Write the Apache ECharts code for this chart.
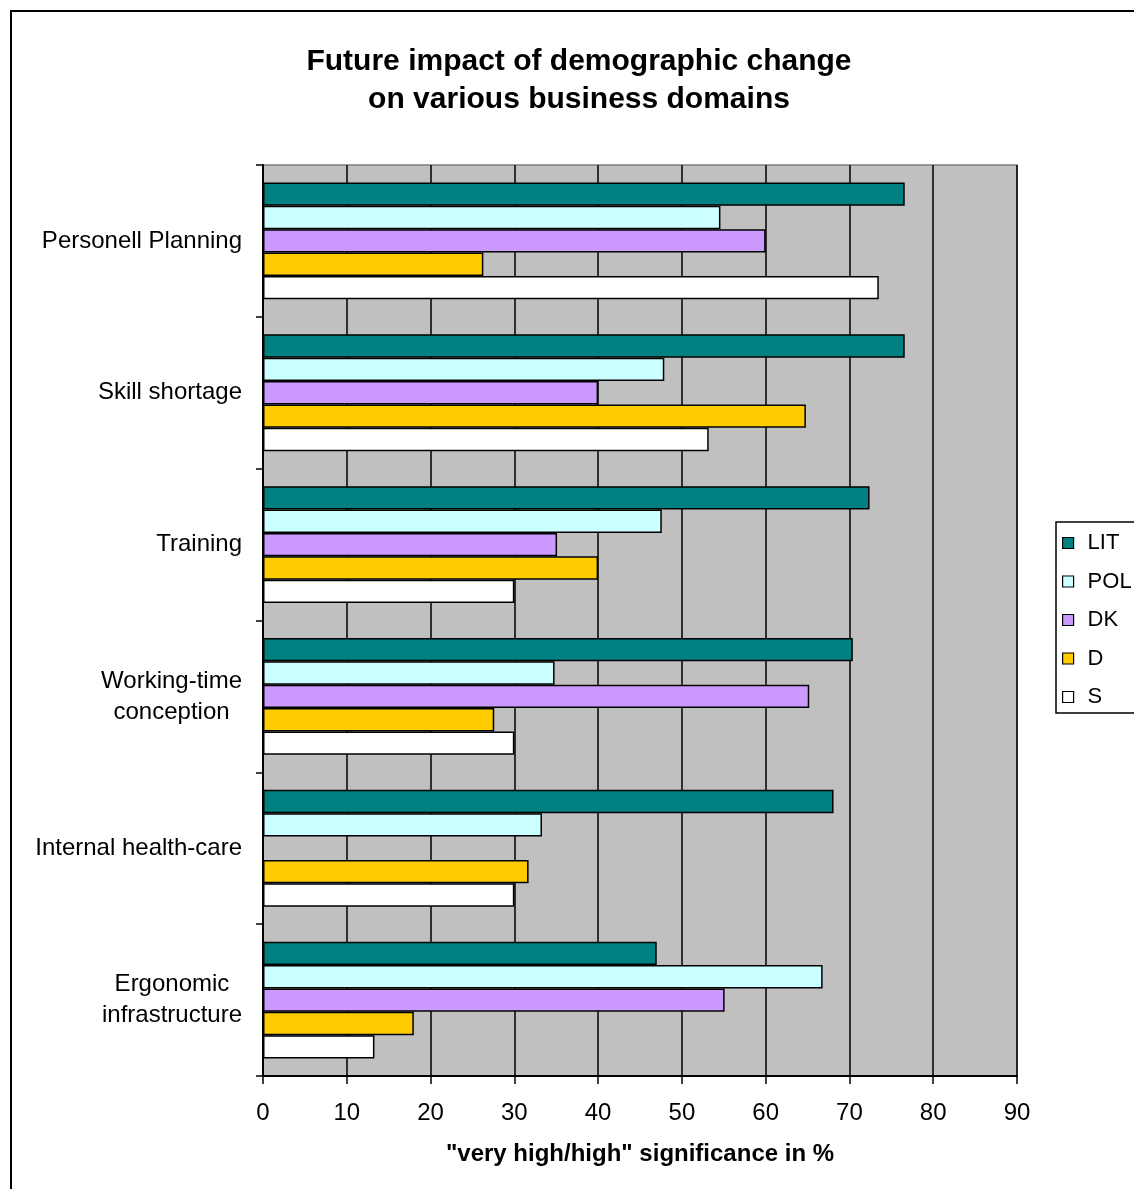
<!DOCTYPE html>
<html>
<head>
<meta charset="utf-8">
<title>Future impact of demographic change</title>
<script src="https://cdn.jsdelivr.net/npm/echarts@6/dist/echarts.min.js"></script>
<style>
  html, body { margin: 0; padding: 0; background: #fff; }
  #chart { width: 1134px; height: 1189px; }
</style>
</head>
<body>
<div id="chart"></div>
<script>
// Business domains (top to bottom)
const domains = [
  'Personell Planning',
  'Skill shortage',
  'Training',
  'Working-time\nconception',
  'Internal health-care',
  'Ergonomic\ninfrastructure'
];

// Share of "very high/high" significance in %, per country
const seriesNames = ['LIT', 'POL', 'DK', 'D', 'S'];
const litValues = [76.6, 76.6, 72.4, 70.4, 68.1, 47.0];
const polValues = [54.6, 47.9, 47.6, 34.8, 33.3, 66.8];
const dkValues  = [60.0, 40.0, 35.1, 65.2, null, 55.1];
const dValues   = [26.3, 64.8, 40.0, 27.6, 31.7, 18.0];
const sValues   = [73.5, 53.2, 30.0, 30.0, 30.0, 13.3];

const xTicks = [0, 10, 20, 30, 40, 50, 60, 70, 80, 90];

const colors = ['#008080', '#CCFFFF', '#CC99FF', '#FFCC00', '#FFFFFF'];
const FONT = "'Liberation Sans', Arial, sans-serif";

const chart = echarts.init(document.getElementById('chart'), null, { renderer: 'canvas' });

const valueSets = [litValues, polValues, dkValues, dValues, sValues];

const series = seriesNames.map((name, i) => ({
  name: name,
  type: 'bar',
  data: valueSets[i],
  barGap: '0%',
  barCategoryGap: '23%',
  itemStyle: { color: colors[i], borderColor: '#000', borderWidth: 1.5 },
  emphasis: { disabled: true },
  animation: false
}));

chart.setOption({
  animation: false,
  textStyle: { fontFamily: FONT },
  title: {
    text: 'Future impact of demographic change\non various business domains',
    left: 574,
    textAlign: 'center',
    top: 38,
    textStyle: {
      fontFamily: FONT,
      fontSize: 30,
      fontWeight: 'bold',
      lineHeight: 38,
      color: '#000'
    }
  },
  legend: {
    data: seriesNames,
    orient: 'vertical',
    left: 1056,
    top: 522,
    itemWidth: 11,
    itemHeight: 11,
    itemGap: 12.5,
    padding: [8, 40, 3, 6],
    borderColor: '#000',
    borderWidth: 1.5,
    icon: 'rect',
    itemStyle: { borderColor: '#000', borderWidth: 1.2 },
    textStyle: {
      fontFamily: FONT,
      fontSize: 22,
      color: '#000',
      lineHeight: 26,
      padding: [0, 0, 0, 9]
    },
    selectedMode: false
  },
  grid: {
    left: 263,
    top: 165,
    width: 754,
    height: 911,
    show: true,
    backgroundColor: '#C0C0C0',
    borderColor: '#808080',
    borderWidth: 1.5,
    containLabel: false
  },
  xAxis: {
    type: 'value',
    min: xTicks[0],
    max: xTicks[xTicks.length - 1],
    interval: xTicks[1] - xTicks[0],
    axisLine: { show: true, lineStyle: { color: '#000', width: 2 } },
    axisTick: { show: true, length: 8, lineStyle: { color: '#000', width: 1.5 } },
    axisLabel: { fontFamily: FONT, fontSize: 24, color: '#000', margin: 25 },
    splitLine: { show: true, lineStyle: { color: '#000', width: 1.5 } },
    name: '"very high/high" significance in %',
    nameLocation: 'middle',
    nameGap: 66,
    nameTextStyle: { fontFamily: FONT, fontSize: 24, fontWeight: 'bold', color: '#000' }
  },
  yAxis: {
    type: 'category',
    data: domains,
    inverse: true,
    axisLine: { show: true, lineStyle: { color: '#000', width: 2 } },
    axisTick: { show: true, length: 7, alignWithLabel: false, lineStyle: { color: '#000', width: 1.5 } },
    axisLabel: {
      margin: 21,
      formatter: function (v) {
        return v.split('\n').map(l => '{c|' + l + '}').join('\n');
      },
      rich: {
        c: { fontFamily: FONT, fontSize: 24, color: '#000', align: 'center', lineHeight: 31 }
      }
    },
    splitLine: { show: false }
  },
  graphic: [{
    type: 'rect',
    shape: { x: 11, y: 11, width: 1300, height: 1300 },
    style: { fill: 'none', stroke: '#000', lineWidth: 2 },
    silent: true,
    z: 100
  }],
  series: series
});
</script>
</body>
</html>
